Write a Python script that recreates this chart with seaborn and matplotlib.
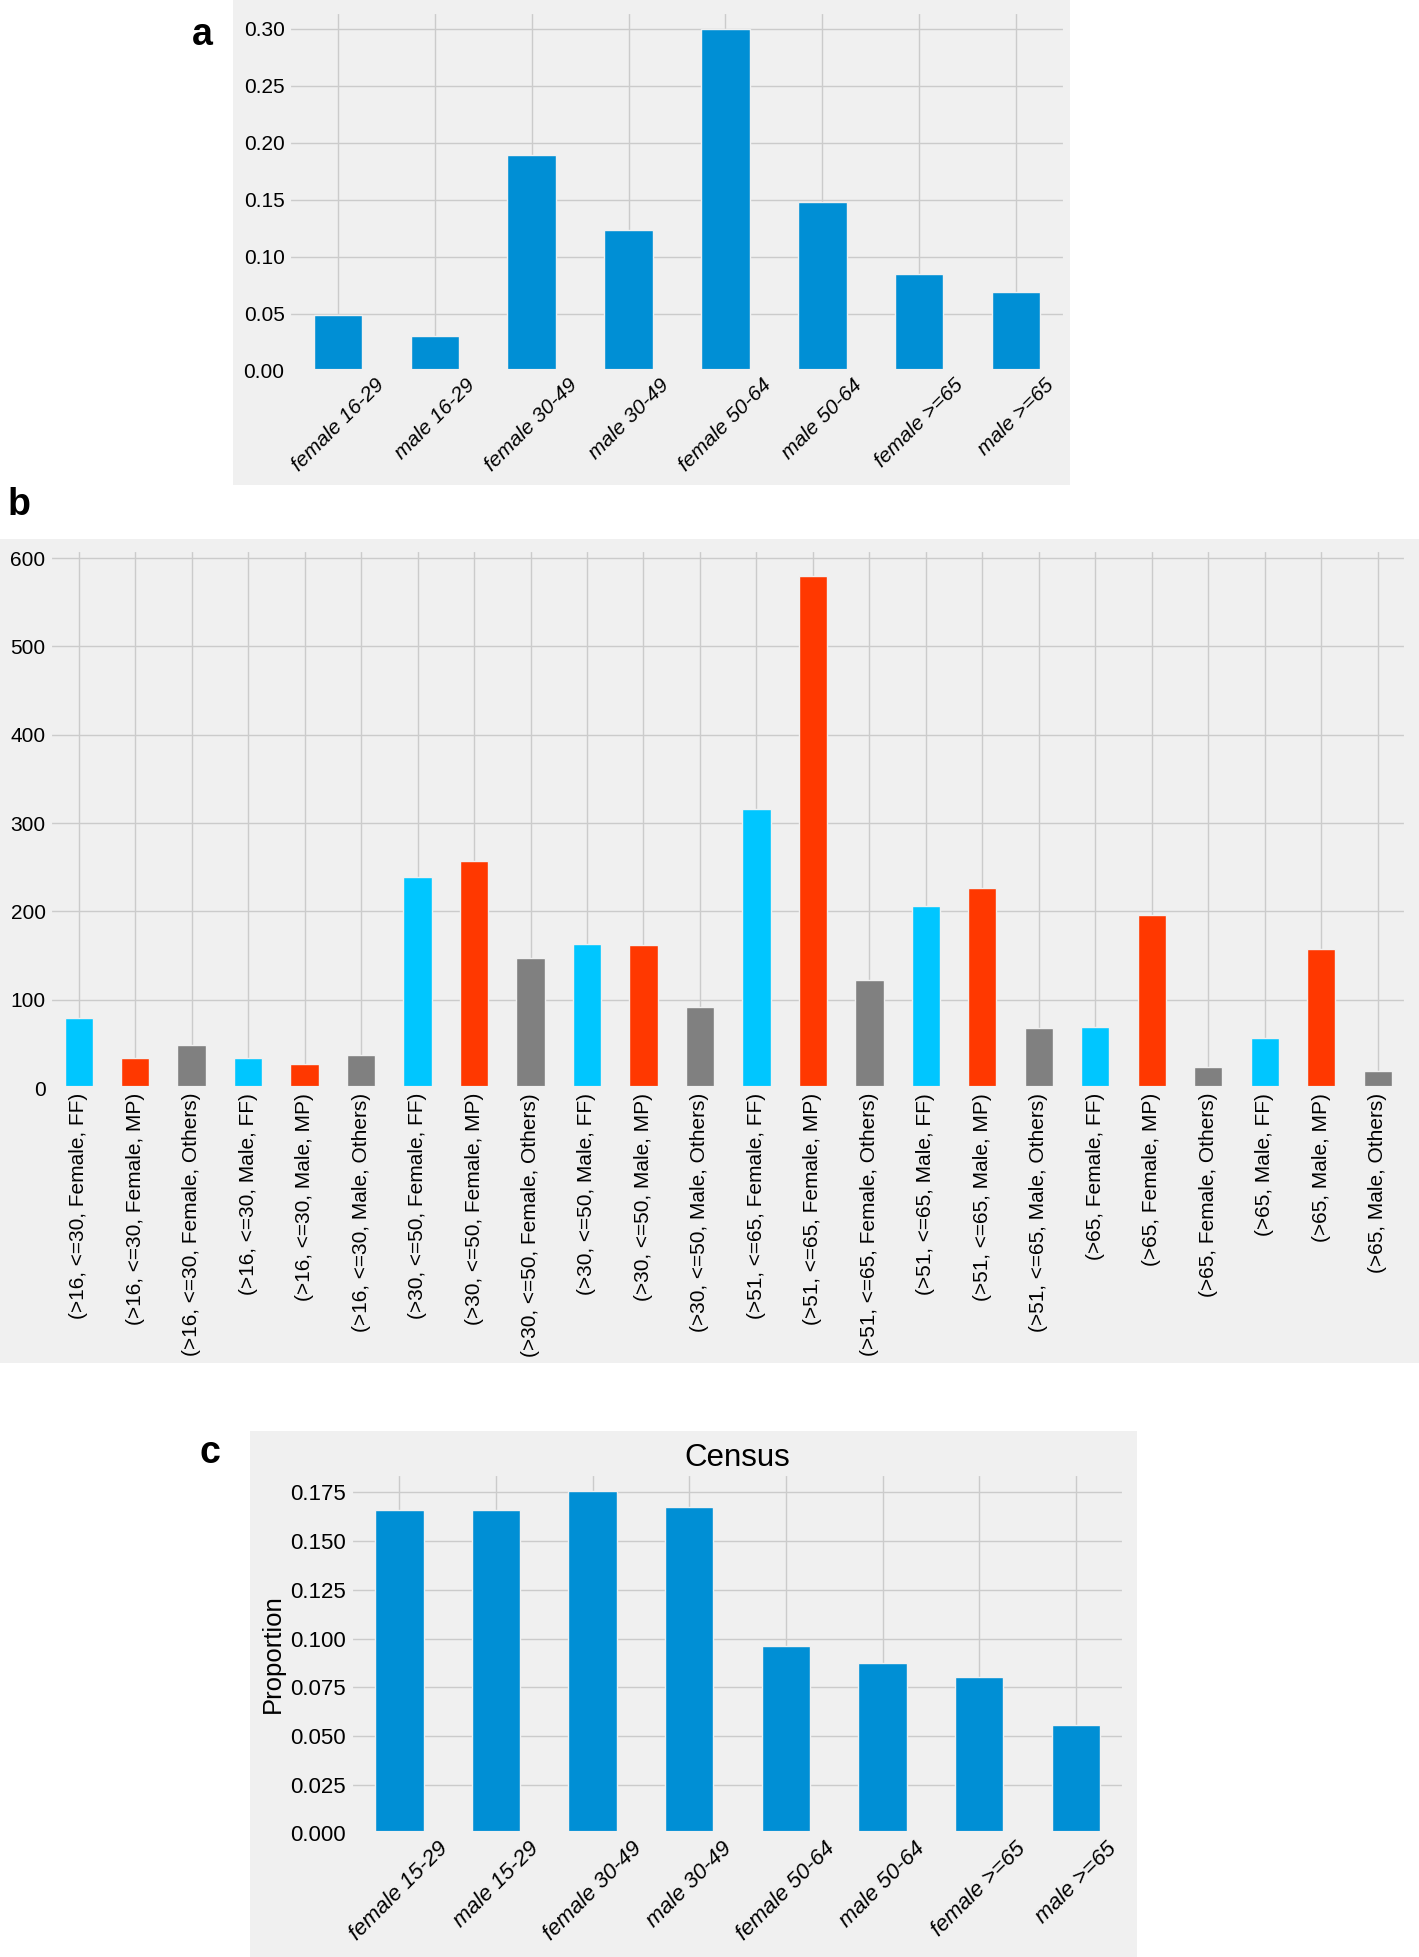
import numpy as np
import pandas as pd
import matplotlib
matplotlib.use('Agg')
import matplotlib.pyplot as plt
from matplotlib.patches import Rectangle
import seaborn as sns

# panel a: survey sample proportions
a_groups = ['female 16-29', 'male 16-29', 'female 30-49', 'male 30-49',
            'female 50-64', 'male 50-64', 'female >=65', 'male >=65']
a_share = [0.049, 0.030, 0.189, 0.123, 0.300, 0.148, 0.085, 0.069]

# panel b: counts by age band, sex and party
b_labels = ['(>16, <=30, Female, FF)', '(>16, <=30, Female, MP)', '(>16, <=30, Female, Others)',
            '(>16, <=30, Male, FF)', '(>16, <=30, Male, MP)', '(>16, <=30, Male, Others)',
            '(>30, <=50, Female, FF)', '(>30, <=50, Female, MP)', '(>30, <=50, Female, Others)',
            '(>30, <=50, Male, FF)', '(>30, <=50, Male, MP)', '(>30, <=50, Male, Others)',
            '(>51, <=65, Female, FF)', '(>51, <=65, Female, MP)', '(>51, <=65, Female, Others)',
            '(>51, <=65, Male, FF)', '(>51, <=65, Male, MP)', '(>51, <=65, Male, Others)',
            '(>65, Female, FF)', '(>65, Female, MP)', '(>65, Female, Others)',
            '(>65, Male, FF)', '(>65, Male, MP)', '(>65, Male, Others)']
b_party = ['FF', 'MP', 'Others'] * 8
b_counts = [79, 34, 49, 34, 27, 37, 239, 257, 147, 163, 162, 92,
            316, 580, 122, 206, 227, 68, 69, 196, 24, 57, 157, 19]
party_colors = {'FF': '#00c6ff', 'MP': '#ff3800', 'Others': '#808080'}

# panel c: census proportions
c_groups = ['female 15-29', 'male 15-29', 'female 30-49', 'male 30-49',
            'female 50-64', 'male 50-64', 'female >=65', 'male >=65']
c_share = [0.166, 0.166, 0.1755, 0.1673, 0.0964, 0.0875, 0.0805, 0.0556]

plt.style.use('fivethirtyeight')
plt.rcParams['font.family'] = ['Liberation Sans', 'DejaVu Sans']

W, H = 1419, 1957
fig = plt.figure(figsize=(W / 100, H / 100), dpi=100, facecolor='white')

# grey panel backgrounds (pixel boxes: x0, y0, x1, y1 from top)
for x0, y0, x1, y1 in [(233, 0, 1070, 485), (0, 539, 1419, 1363), (250, 1431, 1137, 1957)]:
    fig.add_artist(Rectangle((x0 / W, 1 - y1 / H), (x1 - x0) / W, (y1 - y0) / H,
                             transform=fig.transFigure, facecolor='#f0f0f0',
                             edgecolor='none', zorder=-10))

bar_kw = dict(width=0.5, saturation=1, edgecolor='#f0f0f0', linewidth=1)

# a
ax_a = fig.add_axes([0.2040, 0.8106, 0.5462, 0.1835])
df_a = pd.DataFrame({'group': a_groups, 'share': a_share})
sns.barplot(data=df_a, x='group', y='share', color='#008fd5', ax=ax_a, **bar_kw)
ax_a.set_ylim(0, max(a_share) * 1.05)
ax_a.set_yticks(np.arange(0, 0.31, 0.05))
ax_a.grid(True, axis='both')
ax_a.set_xlabel('')
ax_a.set_ylabel('')
ax_a.tick_params(axis='y', labelsize=15)
ax_a.tick_params(axis='x', labelsize=15, rotation=45)
for t in ax_a.get_xticklabels():
    t.set_fontstyle('italic')

# b
ax_b = fig.add_axes([0.03552, 0.4440, 0.9553, 0.2749])
df_b = pd.DataFrame({'label': b_labels, 'party': b_party, 'count': b_counts})
sns.barplot(data=df_b, x='label', y='count', hue='party', palette=party_colors,
            dodge=False, legend=False, ax=ax_b, **bar_kw)
ax_b.set_ylim(0, max(b_counts) * 1.05)
ax_b.set_yticks(np.arange(0, 601, 100))
ax_b.grid(True, axis='both')
ax_b.set_xlabel('')
ax_b.set_ylabel('')
ax_b.tick_params(axis='y', labelsize=15)
ax_b.tick_params(axis='x', labelsize=15, rotation=90)

# c
ax_c = fig.add_axes([0.2474, 0.06311, 0.5448, 0.1835])
df_c = pd.DataFrame({'group': c_groups, 'share': c_share})
sns.barplot(data=df_c, x='group', y='share', color='#008fd5', ax=ax_c, **bar_kw)
ax_c.set_ylim(0, max(c_share) * 1.05)
ax_c.set_yticks(np.arange(0, 0.176, 0.025))
ax_c.grid(True, axis='both')
ax_c.set_xlabel('')
ax_c.set_ylabel('Proportion', fontsize=18.5)
ax_c.set_title('Census', fontsize=22.5)
ax_c.tick_params(axis='y', labelsize=16)
ax_c.tick_params(axis='x', labelsize=16, rotation=45)
for t in ax_c.get_xticklabels():
    t.set_fontstyle('italic')

# panel letters
for letter, px, py in [('a', 202, 35), ('b', 19, 505), ('c', 210, 1453)]:
    fig.text(px / W, 1 - py / H, letter, fontsize=27, fontweight='bold',
             ha='center', va='center')

fig.savefig('out.png', dpi=100, facecolor='white')
